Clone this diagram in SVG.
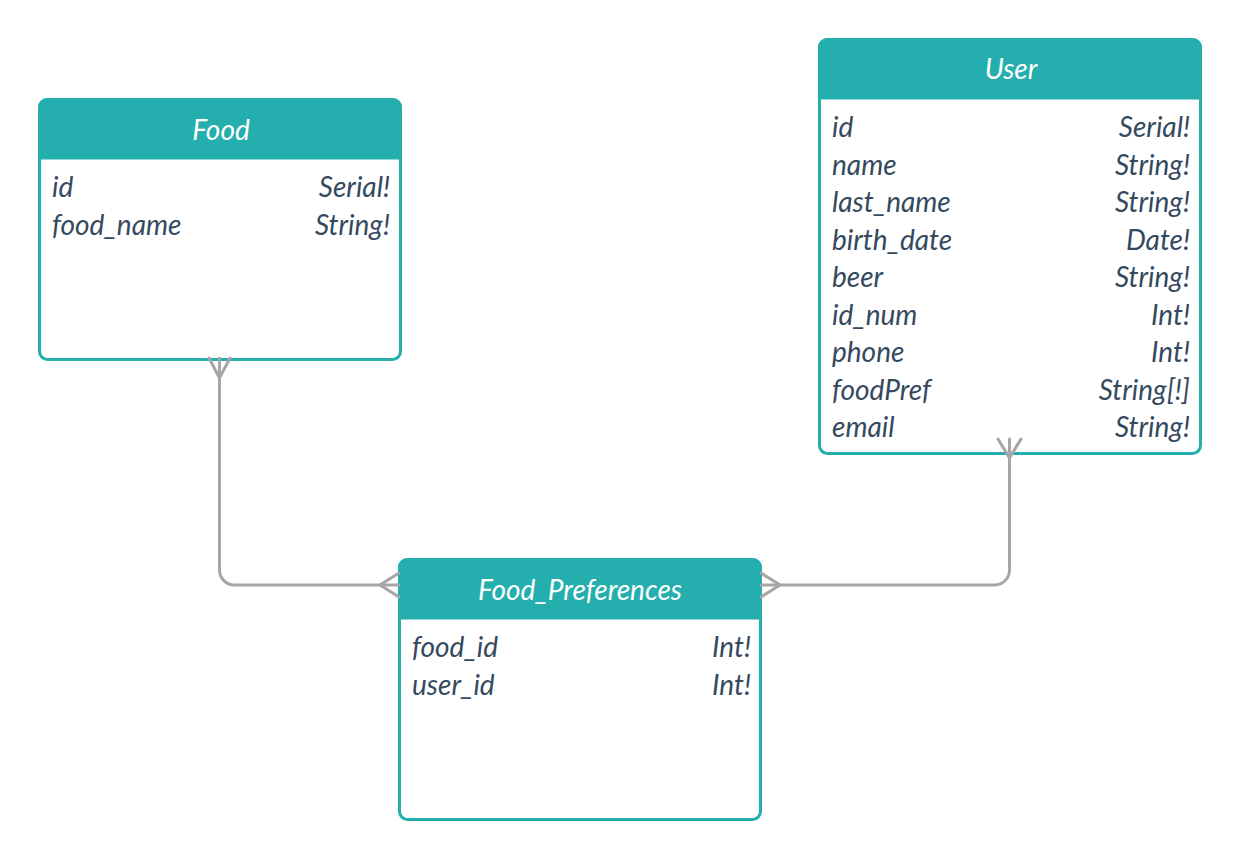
<svg xmlns="http://www.w3.org/2000/svg" width="1240" height="860" viewBox="0 0 1240 860">
<style>
.box{fill:#ffffff;stroke:#24aeae;stroke-width:3}
.hdr{fill:#24aeae}
.title{font-family:Lato,"Open Sans","Liberation Sans",sans-serif;font-style:italic;font-size:28px;fill:#ffffff;text-anchor:middle}
.f{font-family:Lato,"Open Sans","Liberation Sans",sans-serif;font-style:italic;font-size:28px;fill:#34495e}
.t{font-family:Lato,"Open Sans","Liberation Sans",sans-serif;font-style:italic;font-size:28px;fill:#34495e;text-anchor:end}
.c{fill:none;stroke:#a6a6a6;stroke-width:3;stroke-linecap:round;stroke-linejoin:round}
</style>
<rect width="1240" height="860" fill="#ffffff"/>
<g id="food">
<rect class="box" x="39.5" y="99.5" width="361" height="260" rx="8"/>
<path class="hdr" d="M39.5,158 V107.5 A8,8 0 0 1 47.5,99.5 H392.5 A8,8 0 0 1 400.5,107.5 V158 Z" stroke="#24aeae" stroke-width="3"/>
<text class="title" x="221" y="140">Food</text>
<text class="f" x="52" y="197">id</text><text class="t" x="390" y="197">Serial!</text>
<text class="f" x="52" y="235">food_name</text><text class="t" x="390" y="235">String!</text>
</g>
<g id="user">
<rect class="box" x="819.5" y="39.5" width="381" height="414" rx="8"/>
<path class="hdr" d="M819.5,98 V47.5 A8,8 0 0 1 827.5,39.5 H1192.5 A8,8 0 0 1 1200.5,47.5 V98 Z" stroke="#24aeae" stroke-width="3"/>
<text class="title" x="1011" y="79">User</text>
<text class="f" x="832" y="137">id</text><text class="t" x="1190" y="137">Serial!</text>
<text class="f" x="832" y="174.5">name</text><text class="t" x="1190" y="174.5">String!</text>
<text class="f" x="832" y="212">last_name</text><text class="t" x="1190" y="212">String!</text>
<text class="f" x="832" y="249.5">birth_date</text><text class="t" x="1190" y="249.5">Date!</text>
<text class="f" x="832" y="287">beer</text><text class="t" x="1190" y="287">String!</text>
<text class="f" x="832" y="324.5">id_num</text><text class="t" x="1190" y="324.5">Int!</text>
<text class="f" x="832" y="362">phone</text><text class="t" x="1190" y="362">Int!</text>
<text class="f" x="832" y="399.5">foodPref</text><text class="t" x="1190" y="399.5">String[!]</text>
<text class="f" x="832" y="437">email</text><text class="t" x="1190" y="437">String!</text>
</g>
<g id="food_preferences">
<rect class="box" x="399.5" y="559.5" width="361" height="260" rx="8"/>
<path class="hdr" d="M399.5,618 V567.5 A8,8 0 0 1 407.5,559.5 H752.5 A8,8 0 0 1 760.5,567.5 V618 Z" stroke="#24aeae" stroke-width="3"/>
<text class="title" x="580" y="600">Food_Preferences</text>
<text class="f" x="412" y="657">food_id</text><text class="t" x="751" y="657">Int!</text>
<text class="f" x="412" y="695">user_id</text><text class="t" x="751" y="695">Int!</text>
</g>
<g id="connectors">
<path class="c" d="M219.5,358 V570 A15,15 0 0 0 234.5,585 H399"/>
<path class="c" d="M209,358 L219.5,378 L230,358"/>
<path class="c" d="M399,573 L380,585 L399,597"/>
<path class="c" d="M761,585 H994 A15,15 0 0 0 1009.5,570 V439"/>
<path class="c" d="M761,573 L780,585 L761,597"/>
<path class="c" d="M998,439 L1009.5,458 L1021,439"/>
</g>
</svg>
